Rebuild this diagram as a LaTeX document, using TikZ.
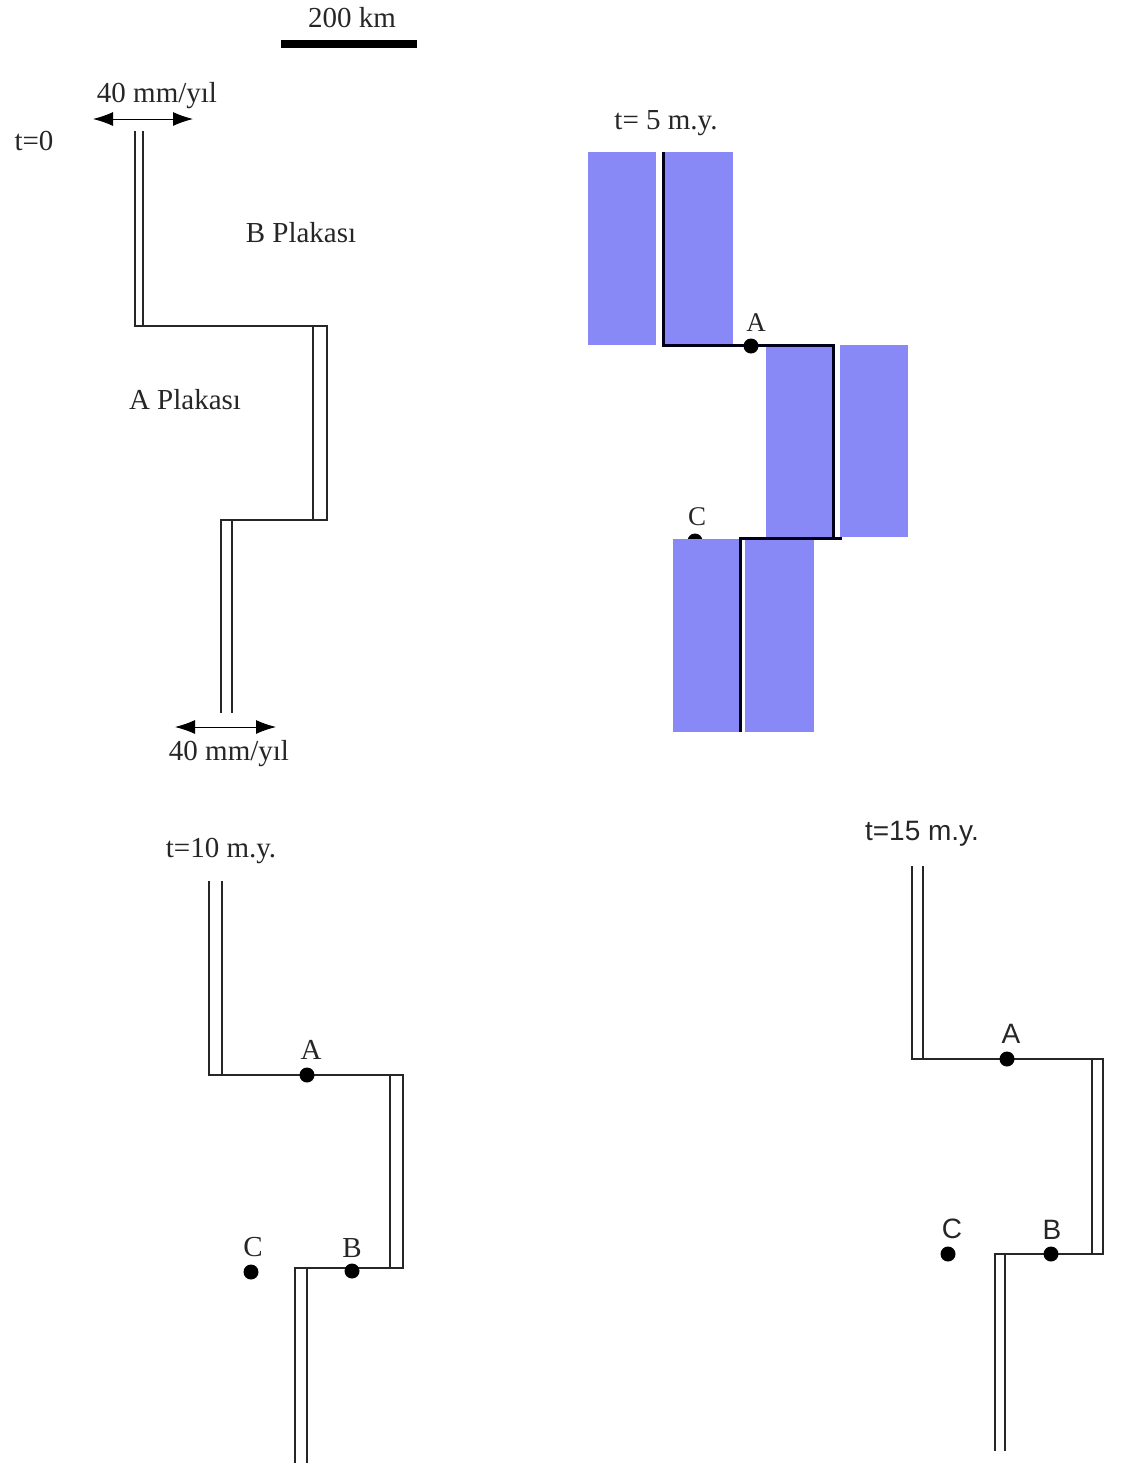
\documentclass[tikz,border=0pt]{standalone}
\usepackage{fontspec}
\setmainfont{Liberation Serif}
\newfontfamily\arialf{Liberation Sans}
\usetikzlibrary{arrows.meta}
\definecolor{plateblue}{RGB}{136,136,246}
\begin{document}
\begin{tikzpicture}[x=1pt,y=-1pt,
  fl/.style={line width=2.3pt, draw=black!85, line join=miter},
  tl/.style={line width=3pt, draw=black!90!blue, line join=miter},
  lbl/.style={font=\fontsize{29}{30}\selectfont, inner sep=0pt, text=black!85},
  slbl/.style={font=\arialf\fontsize{28}{30}\selectfont, inner sep=0pt, text=black!85},
  dot/.style={circle, fill=black, minimum size=15pt, inner sep=0pt},
  vel/.style={line width=0.9pt, {Latex[length=20pt,width=14pt]}-{Latex[length=20pt,width=14pt]}},
  plate/.style={fill=plateblue, draw=none}]
\useasboundingbox (0,0) rectangle (1120,1470);

% scale bar
\node[lbl] (scl) at (352,18) {200 km};
\coordinate (sbl) at (281,44);
\coordinate (sbr) at (417,44);
\draw[line width=8pt] (sbl) -- (sbr);

% ---------- t = 0 ----------
\node[lbl] (t0) at (34,141) {t=0};
\node[lbl] (v1) at (157,96) {40 mm/yıl};
\coordinate (v1a) at (93,119);
\coordinate (v1b) at (193,119);
\draw[vel] (v1a) -- (v1b);
\node[lbl] (v2) at (229,754) {40 mm/yıl};
\coordinate (v2a) at (175,727);
\coordinate (v2b) at (276,727);
\draw[vel] (v2a) -- (v2b);
\node[lbl] (bpl) at (301,233) {B Plakası};
\node[lbl] (apl) at (185,400) {A Plakası};
\draw[fl] (135,131) -- (135,326) -- (327,326) -- (327,520) -- (221,520) -- (221,713);
\draw[fl] (143,131) -- (143,326);
\draw[fl] (313,326) -- (313,520);
\draw[fl] (232,520) -- (232,713);

% ---------- t = 5 m.y. ----------
\node[lbl] (t5) at (666,123) {t= 5 m.y.};
\node[dot] (c5) at (695,541) {};
\node[lbl, font=\fontsize{27}{28}\selectfont] (c5l) at (697,517) {C};
\fill[plate] (588,152) rectangle (656,345);
\fill[plate] (665,152) rectangle (733,345);
\fill[plate] (766,345) rectangle (833,537);
\fill[plate] (840,345) rectangle (908,537);
\fill[plate] (673,539) rectangle (739,732);
\fill[plate] (745,539) rectangle (814,732);
\draw[tl] (663,152) -- (663,345) -- (833,345) -- (833,538) -- (740,538) -- (740,732);
\draw[tl] (833,538) -- (842,538);
\node[dot] (a5) at (751,346) {};
\node[lbl, font=\fontsize{27}{28}\selectfont] (a5l) at (756,323) {A};

% ---------- t = 10 m.y. ----------
\node[lbl] (t10) at (221,851) {t=10 m.y.};
\draw[fl] (209,881) -- (209,1075) -- (403,1075) -- (403,1268) -- (295,1268) -- (295,1463);
\draw[fl] (222,881) -- (222,1075);
\draw[fl] (390,1075) -- (390,1268);
\draw[fl] (307,1268) -- (307,1463);
\node[dot] (a10) at (307,1075) {};
\node[lbl] (a10l) at (311,1050) {A};
\node[dot] (b10) at (352,1271) {};
\node[lbl] (b10l) at (352,1248) {B};
\node[dot] (c10) at (251,1272) {};
\node[lbl] (c10l) at (253,1247) {C};

% ---------- t = 15 m.y. ----------
\node[slbl] (t15) at (922,834) {t=15 m.y.};
\draw[fl] (912,866) -- (912,1059) -- (1103,1059) -- (1103,1254) -- (995,1254) -- (995,1451);
\draw[fl] (923,866) -- (923,1059);
\draw[fl] (1092,1059) -- (1092,1254);
\draw[fl] (1005,1254) -- (1005,1451);
\node[dot] (a15) at (1007,1059) {};
\node[slbl] (a15l) at (1011,1034) {A};
\node[dot] (b15) at (1051,1254) {};
\node[slbl] (b15l) at (1052,1230) {B};
\node[dot] (c15) at (948,1254) {};
\node[slbl] (c15l) at (952,1229) {C};
\end{tikzpicture}
\end{document}
